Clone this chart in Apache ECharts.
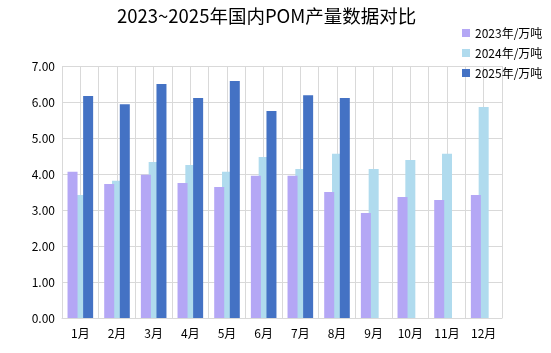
<!DOCTYPE html>
<html><head><meta charset="utf-8">
<script src="https://cdn.jsdelivr.net/npm/echarts@6/dist/echarts.min.js"></script>
<style>html,body{margin:0;padding:0;background:#fff}#c{width:551px;height:353px}</style>
</head><body><div id="c"></div>
<script>
const title = '2023~2025年国内POM产量数据对比';
const months = ['1月','2月','3月','4月','5月','6月','7月','8月','9月','10月','11月','12月'];
const seriesNames = ['2023年/万吨','2024年/万吨','2025年/万吨'];
const v2023 = [4.06,3.72,3.98,3.75,3.64,3.95,3.95,3.50,2.92,3.36,3.28,3.42];
const v2024 = [3.42,3.81,4.33,4.25,4.06,4.47,4.14,4.56,4.14,4.39,4.56,5.86];
const v2025 = [6.17,5.94,6.50,6.11,6.58,5.75,6.19,6.11,null,null,null,null];
const yTicks = [0,1,2,3,4,5,6,7];

const FONT = '"Noto Sans CJK SC", "Noto Sans", sans-serif';
const chart = echarts.init(document.getElementById('c'), null, {renderer:'canvas'});
chart.setOption({
  animation:false,
  textStyle:{fontFamily:FONT},
  title:{text:title,left:112,top:2,textStyle:{fontFamily:FONT,fontSize:18.5,fontWeight:'normal',color:'#000'}},
  legend:{orient:'vertical',left:457,top:22,itemWidth:8,itemHeight:8,itemGap:8,icon:'rect',
    textStyle:{fontFamily:FONT,fontSize:12,color:'#000'},data:seriesNames},
  grid:{left:62,right:49,top:66,bottom:35,containLabel:false},
  xAxis:[
    {type:'category',data:months,boundaryGap:true,
     axisLine:{show:true,lineStyle:{color:'#d9d9d9'}},axisTick:{show:false},
     axisLabel:{color:'#000',fontSize:12,fontFamily:FONT,margin:9},splitLine:{show:false}},
    {type:'value',min:0,max:24,interval:1,position:'bottom',
     axisLine:{show:false},axisTick:{show:false},axisLabel:{show:false},
     splitLine:{show:true,lineStyle:{color:'#d9d9d9',width:1}}}
  ],
  yAxis:{type:'value',min:yTicks[0],max:yTicks[yTicks.length-1],interval:1,
    axisLine:{show:false},axisTick:{show:false},
    axisLabel:{color:'#000',fontSize:12,fontFamily:FONT,margin:7,formatter:v=>v.toFixed(2)},
    splitLine:{show:true,lineStyle:{color:'#d9d9d9',width:1}}},
  series:[
    {name:seriesNames[0],type:'bar',xAxisIndex:0,data:v2023,barWidth:10,barGap:'-22%',z:3,
     itemStyle:{color:'#b4a7f5'}},
    {name:seriesNames[1],type:'bar',xAxisIndex:0,data:v2024,barWidth:10,barGap:'-22%',z:2,
     itemStyle:{color:'#b0dbee'}},
    {name:seriesNames[2],type:'bar',xAxisIndex:0,data:v2025,barWidth:10,barGap:'-22%',z:3,
     itemStyle:{color:'#4472c4'}}
  ]
});
</script></body></html>
